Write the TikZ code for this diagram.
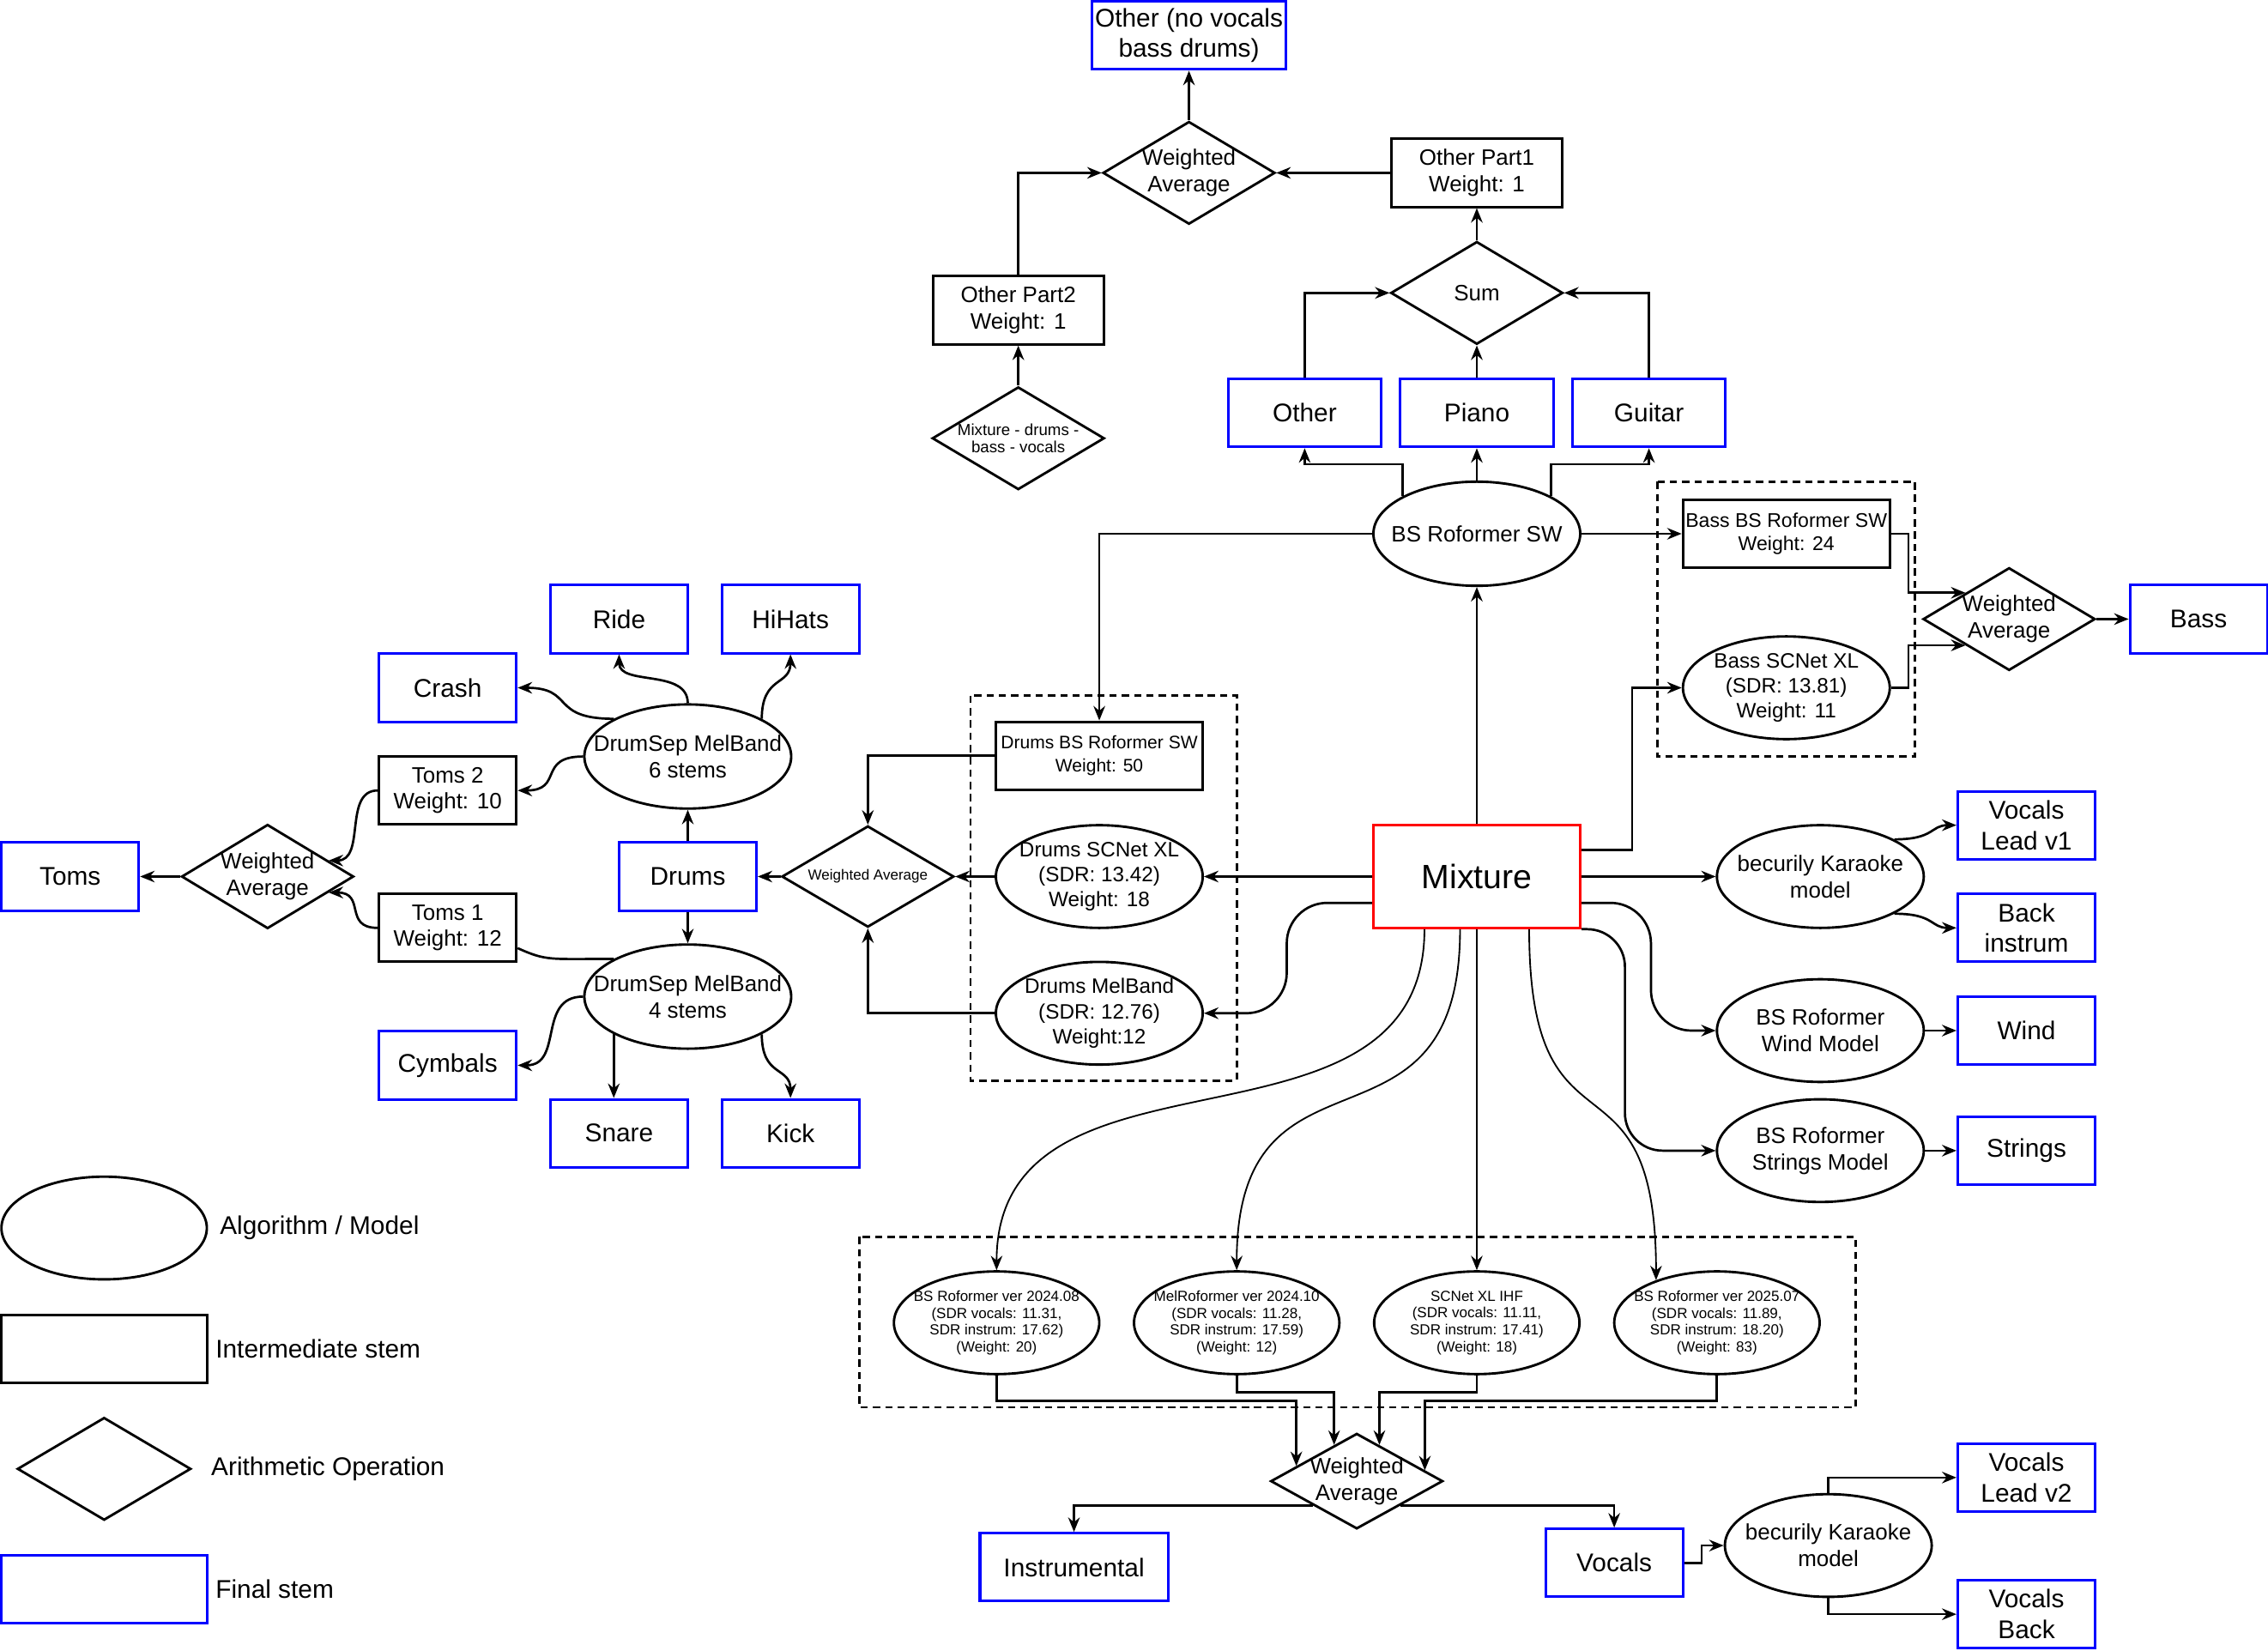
\documentclass[tikz,border=0pt]{standalone}
\usepackage{fontspec}
\setmainfont{Liberation Sans}
\usepackage{tikz}
\usetikzlibrary{positioning, arrows.meta, calc, shapes.geometric, backgrounds}
\definecolor{finB}{HTML}{0000FF}
\definecolor{mixB}{HTML}{FF0000}
\newcommand{\fsFin}{\fontsize{17.7}{21.2}\selectfont}
\newcommand{\fsMix}{\fontsize{23.3}{28}\selectfont}
\newcommand{\fsMid}{\fontsize{15.4}{18.3}\selectfont}
\newcommand{\fsMdl}{\fontsize{14.4}{17.3}\selectfont}
\newcommand{\fsBsr}{\fontsize{13.7}{16}\selectfont}
\newcommand{\fsDbs}{\fontsize{12.5}{16}\selectfont}
\newcommand{\fsTny}{\fontsize{11.1}{12.2}\selectfont}
\newcommand{\fsMic}{\fontsize{10.1}{11.7}\selectfont}

\begin{document}
\begin{tikzpicture}[x=1pt, y=-1pt,
  finbox/.style={draw=finB, line width=1.8pt, fill=white, minimum width=95pt, minimum height=47pt, inner sep=1pt, align=center, font=\fsFin},
  midbox/.style={draw, line width=1.8pt, fill=white, minimum width=95pt, minimum height=47pt, inner sep=1pt, align=center, font=\fsMid},
  algo/.style={ellipse, draw, line width=1.7pt, fill=white, minimum width=143pt, minimum height=71pt, inner sep=-60pt, align=center, font=\fsMid},
  opbox/.style={diamond, draw, line width=1.7pt, fill=white, minimum width=119pt, minimum height=71pt, inner sep=-60pt, align=center, font=\fsMid},
  grp/.style={draw, line width=1.6pt, dash pattern=on 5pt off 3.5pt},
  arr/.style={line width=1.6pt, -{Stealth[length=10pt, width=8pt, inset=3.3pt]}},
  thinarr/.style={arr, line width=1.1pt},
  lgtxt/.style={font=\fsFin, inner sep=0pt}]
\useasboundingbox (0,0) rectangle (1568,1141);

\node[finbox, minimum width=134pt] (onv) at (822,24.5) {Other (no vocals\\bass drums)};
\node[opbox] (wat) at (822,119.5) {Weighted\\Average};
\node[midbox, minimum width=118pt] (op1) at (1021,119.5) {Other Part1\\Weight: 1};
\node[opbox] (sumop) at (1021,202.5) {Sum};
\node[midbox, minimum width=118pt] (op2) at (704,214.5) {Other Part2\\Weight: 1};
\node[opbox, font=\fsTny] (mdbv) at (704,303) {Mixture - drums -\\bass - vocals};
\node[finbox, minimum width=106pt] (oth) at (902,285.5) {Other};
\node[finbox, minimum width=106pt] (pia) at (1021,285.5) {Piano};
\node[finbox, minimum width=106pt] (gui) at (1140,285.5) {Guitar};
\node[algo, minimum height=72pt] (bsrsw) at (1021,369) {BS Roformer SW};

\node[midbox, minimum width=143pt, font=\fsBsr] (bbsr) at (1235,369) {Bass BS Roformer SW\\Weight: 24};
\node[algo, font=\fsMdl] (bscn) at (1235,475.5) {Bass SCNet XL\\(SDR: 13.81)\\Weight: 11};
\node[opbox] (wab) at (1389,428) {Weighted\\Average};
\node[finbox] (bass) at (1520,428) {Bass};

\node[midbox, draw=mixB, minimum width=143pt, minimum height=71pt, font=\fsMix] (mix) at (1021,606) {Mixture};
\node[midbox, minimum width=143pt, font=\fsDbs] (dbsr) at (760,522.5) {Drums BS Roformer SW\\Weight: 50};
\node[algo, font=\fsMdl] (dscn) at (760,606) {Drums SCNet XL\\(SDR: 13.42)\\Weight: 18};
\node[algo, font=\fsMdl] (dmel) at (760,700.5) {Drums MelBand\\(SDR: 12.76)\\Weight:12};
\node[opbox, minimum width=119pt, minimum height=70pt, font=\fsMic] (wad) at (600,606) {Weighted Average};
\node[finbox] (drums) at (475.5,606) {Drums};
\node[algo, minimum height=72pt] (ds6) at (475.5,523) {DrumSep MelBand\\6 stems};
\node[algo, minimum height=72pt] (ds4) at (475.5,689) {DrumSep MelBand\\4 stems};
\node[finbox] (ride) at (428,428) {Ride};
\node[finbox] (hihats) at (546.5,428) {HiHats};
\node[finbox] (crash) at (309.5,475.5) {Crash};
\node[midbox] (toms2) at (309.5,546.5) {Toms 2\\Weight: 10};
\node[midbox] (toms1) at (309.5,641.5) {Toms 1\\Weight: 12};
\node[finbox] (cymb) at (309.5,736.5) {Cymbals};
\node[finbox] (snare) at (428,783.5) {Snare};
\node[finbox] (kick) at (546.5,783.5) {Kick};
\node[opbox, minimum height=72pt] (wat2) at (185,606) {Weighted\\Average};
\node[finbox] (toms) at (48.5,606) {Toms};

\node[algo] (kar1) at (1258.5,606) {becurily Karaoke\\model};
\node[finbox] (vl1) at (1401,570.5) {Vocals\\Lead v1};
\node[finbox] (backi) at (1401,641.5) {Back\\instrum};
\node[algo] (windm) at (1258.5,712.5) {BS Roformer\\Wind Model};
\node[finbox] (wind) at (1401,712.5) {Wind};
\node[algo] (strm) at (1258.5,795.5) {BS Roformer\\Strings Model};
\node[finbox] (strings) at (1401,795.5) {Strings};

\node[algo, minimum width=142pt, font=\fsMic] (v1) at (689,914.5) {BS Roformer ver 2024.08\\(SDR vocals: 11.31,\\SDR instrum: 17.62)\\(Weight: 20)};
\node[algo, minimum width=142pt, font=\fsMic] (v2) at (855,914.5) {MelRoformer ver 2024.10\\(SDR vocals: 11.28,\\SDR instrum: 17.59)\\(Weight: 12)};
\node[algo, minimum width=142pt, font=\fsMic] (v3) at (1021,914.5) {SCNet XL IHF\\(SDR vocals: 11.11,\\SDR instrum: 17.41)\\(Weight: 18)};
\node[algo, minimum width=142pt, font=\fsMic] (v4) at (1187,914.5) {BS Roformer ver 2025.07\\(SDR vocals: 11.89,\\SDR instrum: 18.20)\\(Weight: 83)};
\node[opbox, minimum height=66pt] (wav) at (938,1024) {Weighted\\Average};
\node[finbox, minimum width=130pt] (instr) at (742.5,1083.5) {Instrumental};
\node[finbox] (voc) at (1116,1080.5) {Vocals};
\node[algo] (kar2) at (1264,1068.5) {becurily Karaoke\\model};
\node[finbox] (vl2) at (1401,1021.5) {Vocals\\Lead v2};
\node[finbox] (vb) at (1401,1116) {Vocals\\Back};

\node[algo, minimum width=142pt] (lgA) at (72,849) {};
\node[lgtxt, right=8pt of lgA] {Algorithm / Model};
\node[midbox, minimum width=142pt] (lgI) at (72,932.5) {};
\node[lgtxt, right=5pt of lgI] {Intermediate stem};
\node[opbox, minimum width=120pt] (lgO) at (72,1015.5) {};
\node[lgtxt, right=13pt of lgO] {Arithmetic Operation};
\node[finbox, minimum width=142pt] (lgF) at (72,1098.5) {};
\node[lgtxt, right=5pt of lgF] {Final stem};

\begin{scope}[on background layer]
\draw[grp] (1146,333) rectangle (1324,523);
\draw[grp] (671,481) rectangle (855,747);
\draw[grp] (594,855) rectangle (1283,973);
\end{scope}

\draw[arr] (wat.north) -- (onv.south);
\draw[arr] (op1.west) -- (wat.east);
\draw[arr] (op2.north) |- (wat.west);
\draw[arr] (sumop.north) -- (op1.south);
\draw[arr] (oth.north) |- (sumop.west);
\draw[arr] (pia.north) -- (sumop.south);
\draw[arr] (gui.north) |- (sumop.east);
\draw[arr] (mdbv.north) -- (op2.south);
\draw[arr] (bsrsw.north west) -- ++(0,-22) -| (oth.south);
\draw[arr] (bsrsw.north) -- (pia.south);
\draw[arr] (bsrsw.north east) -- ++(0,-22) -| (gui.south);
\draw[arr] (bsrsw.east) -- (bbsr.west);
\draw[arr] (bsrsw.west) -| (dbsr.north);
\draw[arr] (mix.north) -- (bsrsw.south);
\draw[arr] ($(mix.north east)!.25!(mix.south east)$) -- ++(35,0) |- (bscn.west);
\draw[arr] (bbsr.east) -- ++(12,0) |- (wab.north west);
\draw[arr] (bscn.east) -- ++(12,0) |- (wab.south west);
\draw[arr] (wab.east) -- (bass.west);

\draw[arr] (mix.west) -- (dscn.east);
\draw[arr] (dscn.west) -- (wad.east);
\draw[arr] (dbsr.west) -| (wad.north);
\draw[arr] (dmel.west) -| (wad.south);
\draw[arr] (wad.west) -- (drums.east);
\draw[arr, rounded corners=28pt] ($(mix.north west)!.75!(mix.south west)$) -- ++(-59,0) |- (dmel.east);
\draw[arr] (drums.north) -- (ds6.south);
\draw[arr] (drums.south) -- (ds4.north);
\draw[arr] (ds6.north) .. controls +(0,-24) and +(0,22) .. (ride.south);
\draw[arr] (ds6.north east) .. controls +(0,-30) and +(0,22) .. (hihats.south);
\draw[arr] (ds6.north west) .. controls +(-45,0) and +(40,0) .. (crash.east);
\draw[arr] (ds6.west) .. controls +(-32,0) and +(32,0) .. (toms2.east);
\draw[arr] (toms2.west) .. controls +(-24,0) and +(26,0) .. ($(wat2.north east)!.4!(wat2.east)$);
\draw[arr] (toms1.west) .. controls +(-24,0) and +(26,0) .. ($(wat2.south east)!.4!(wat2.east)$);
\draw[line width=1.6pt] (ds4.north west) .. controls +(-45,0) and +(20,9) .. ($(toms1.east)+(0,14)$);
\draw[arr] (ds4.west) .. controls +(-32,0) and +(32,0) .. (cymb.east);
\draw[arr] (ds4.south west) -- (ds4.south west |- snare.north);
\draw[arr] (ds4.south east) .. controls +(0,30) and +(0,-22) .. (kick.north);
\draw[arr] (wat2.west) -- (toms.east);

\draw[arr] (mix.east) -- (kar1.west);
\draw[arr] (kar1.north east) .. controls +(28,0) and +(-18,0) .. (vl1.west);
\draw[arr] (kar1.south east) .. controls +(28,0) and +(-18,0) .. (backi.west);
\draw[arr, rounded corners=28pt] ($(mix.north east)!.75!(mix.south east)$) -- ++(48,0) |- (windm.west);
\draw[arr, rounded corners=26pt] (mix.south east) -- ++(30,0) |- (strm.west);
\draw[arr] (windm.east) -- (wind.west);
\draw[arr] (strm.east) -- (strings.west);

\draw[thinarr] ($(mix.south west)!.25!(mix.south east)$) .. controls +(0,170) and +(0,-170) .. (v1.north);
\draw[thinarr] ($(mix.south west)!.42!(mix.south east)$) .. controls +(0,170) and +(0,-170) .. (v2.north);
\draw[thinarr] (mix.south) -- (v3.north);
\draw[thinarr] ($(mix.south west)!.75!(mix.south east)$) .. controls +(0,170) and +(0,-170) .. (v4.145);
\draw[arr] (v1.south) -- ++(0,17.5) -| (wav.166);
\draw[arr] (v2.south) -- ++(0,11.5) -| (wav.122);
\draw[arr] (v3.south) -- ++(0,11.5) -| (wav.58);
\draw[arr] (v4.south) -- ++(0,17.5) -| (wav.9);
\draw[arr] (wav.south west) -| (instr.north);
\draw[arr] (wav.south east) -| (voc.north);
\draw[arr] (voc.east) -- ++(12,0) |- (kar2.west);
\draw[arr] (kar2.north) |- (vl2.west);
\draw[arr] (kar2.south) |- (vb.west);
\end{tikzpicture}
\end{document}
